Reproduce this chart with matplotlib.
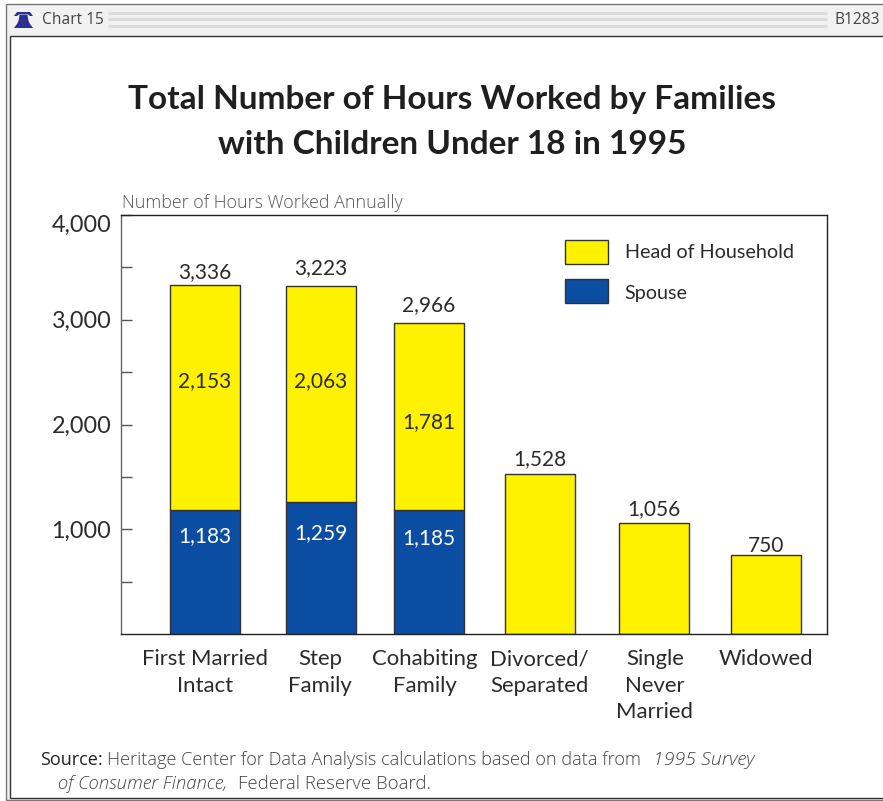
import matplotlib
matplotlib.use('Agg')
import matplotlib.pyplot as plt
from matplotlib.patches import Rectangle, Polygon

W, H = 883, 801

categories = ['First Married\nIntact', 'Step\nFamily', 'Cohabiting\nFamily', 'Divorced/\nSeparated',
              'Single\nNever\nMarried', 'Widowed']
spouse = [1183, 1259, 1185, 0, 0, 0]
head = [2153, 2063, 1781, 1528, 1056, 750]
# printed totals, step family label does not equal its stack in the original
totals = [3336, 3223, 2966, 1528, 1056, 750]
y_ticks = [1000, 2000, 3000, 4000]
y_minor = [500, 1500, 2500, 3500]

# bars are not evenly spaced in the original, and the labels are hand placed too
bar_left = [49, 165, 273, 384, 498, 610]
label_x = [84, 199, 304, 418, 534, 645]
bar_w = 70
total_gap = [115, 170, 170, 145, 135, 90]
head_y = [2415, 2415, 2023]
spouse_y = [935, 964, 916]

yellow = '#FFF200'
blue = '#0B4DA2'
text_col = '#2b2b2b'
plt.rcParams['font.family'] = ['Lato', 'DejaVu Sans']
light_font = ['Open Sans', 'DejaVu Sans']

fig = plt.figure(figsize=(W / 100, H / 100), dpi=100, facecolor='white')

# page furniture in pixel coords
bg = fig.add_axes([0, 0, 1, 1])
bg.set_xlim(0, W)
bg.set_ylim(H, 0)
bg.axis('off')
bg.add_patch(Rectangle((6, 4), W, 796, fc='#f2f2f3', ec='#777777', lw=1))
bg.add_patch(Rectangle((10, 36), W, 762, fc='white', ec='#333333', lw=1))
for yy in (13, 19, 26):
    bg.plot([108, 827], [yy, yy], color='#dcdcdc', lw=2.2, solid_capstyle='butt')
# bell icon
bg.add_patch(Polygon([(14, 16), (17, 12), (30, 12), (33, 16), (30, 16), (28, 14.5), (19, 14.5), (17, 16)],
                     fc='#2A3192', ec='none'))
bg.add_patch(Polygon([(19.5, 15), (27.5, 15), (28.5, 21), (30, 24), (33, 28), (14, 28), (17, 24), (18.5, 21)],
                     fc='#2A3192', ec='none'))
bg.text(42, 20.5, 'Chart 15', fontsize=11.2, color='#444444', va='center', family=light_font)
bg.text(835, 20.5, 'B1283', fontsize=11.2, color='#444444', va='center', family=light_font)

title_font = dict(fontsize=24, fontweight='bold', color='#1f1f1f', ha='center', va='center')
bg.text(452, 99, 'Total Number of Hours Worked by Families', **title_font)
bg.text(452, 144, 'with Children Under 18 in 1995', **title_font)

bg.text(122, 203, 'Number of Hours Worked Annually', fontsize=12.9, color='#555555', va='center',
        fontweight='light', family=light_font)

src = dict(fontsize=13.1, color='#444444', va='center', fontweight='light', family=light_font)
src_it = dict(src, style='italic')
bg.text(40, 760, 'Source:', fontsize=13, color='#222222', va='center', family=light_font)
bg.text(107, 760, 'Heritage Center for Data Analysis calculations based on data from', **src)
bg.text(653, 760, '1995 Survey', **dict(src_it, fontsize=14))
bg.text(58, 784, 'of Consumer Finance,', **dict(src_it, fontsize=13.3))
bg.text(238, 784, 'Federal Reserve Board.', **dict(src, fontsize=13.4))

# chart
ax = fig.add_axes([121 / W, 1 - 634 / H, 706 / W, 419 / H], facecolor='none')
ax.set_xlim(0, 706)
ax.set_ylim(0, 4000)
ax.bar(bar_left, spouse, width=bar_w, align='edge', color=blue, edgecolor='#333333', linewidth=1)
ax.bar(bar_left, head, width=bar_w, bottom=spouse, align='edge', color=yellow, edgecolor='#333333', linewidth=1)

for i in range(len(categories)):
    cx = bar_left[i] + bar_w / 2
    top = spouse[i] + head[i]
    ax.text(cx, top + total_gap[i], f'{totals[i]:,}', ha='center', va='center', fontsize=15, color=text_col)
    if spouse[i]:
        ax.text(cx, head_y[i], f'{head[i]:,}', ha='center', va='center', fontsize=15, color=text_col)
        ax.text(cx, spouse_y[i], f'{spouse[i]:,}', ha='center', va='center', fontsize=15, color='white')

ax.set_yticks(y_ticks)
ax.set_yticklabels([f'{v:,}' for v in y_ticks], fontsize=16.8, color=text_col)
ax.get_yticklabels()[-1].set_va('top')  # 4,000 sits below its tick in the original
ax.set_yticks(y_minor, minor=True)
ax.tick_params(axis='y', which='both', direction='in', length=8, width=1, color='#555555', pad=7)
ax.set_xticks([])
for s in ax.spines.values():
    s.set_color('#222222')
    s.set_linewidth(1)
ax.spines['left'].set_color('#666666')

for i, lab in enumerate(categories):
    bg.text(label_x[i] + 121, 649, lab, ha='center', va='top', fontsize=15.9, color=text_col, linespacing=1.42)

# legend by hand, matches original placement
bg.add_patch(Rectangle((565, 240), 43, 24, fc=yellow, ec='#333333', lw=1))
bg.add_patch(Rectangle((565, 279), 43, 24, fc=blue, ec='#333333', lw=1))
bg.text(625, 253, 'Head of Household', fontsize=14.2, color=text_col, va='center')
bg.text(624, 294, 'Spouse', fontsize=14.2, color=text_col, va='center')

fig.savefig('out.png', dpi=100)
